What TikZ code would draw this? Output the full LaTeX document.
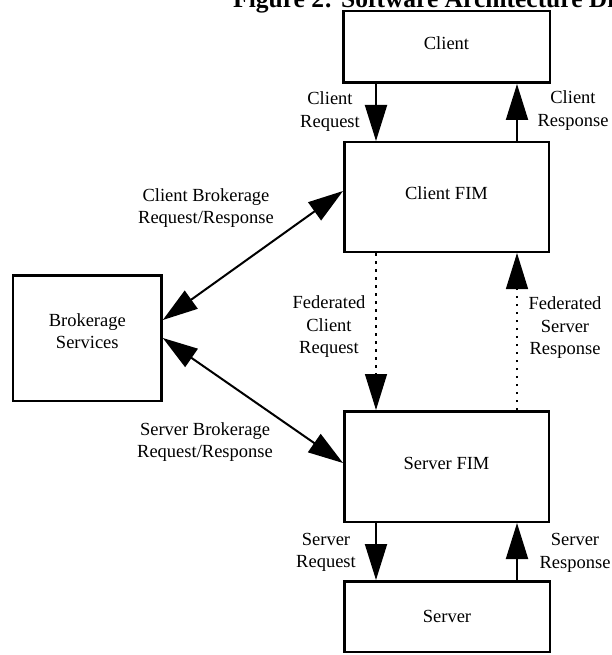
\documentclass[tikz,border=0pt]{standalone}
\usepackage{fontspec}
\setmainfont{Liberation Serif}
\usetikzlibrary{arrows.meta,calc}
\tikzset{
  box/.style={draw, line width=2.5pt, inner sep=0pt, align=center,
    font=\fontsize{18.5}{22.5}\selectfont},
  raised/.style={text height=13pt, text depth=8pt},
  lbl/.style={align=center, inner sep=0pt, font=\fontsize{18.5}{22.5}\selectfont},
  arr/.style={line width=2pt, -{Triangle[length=36pt,width=22pt]}},
  darr/.style={line width=2pt, {Triangle[length=35pt,width=22pt]}-{Triangle[length=35pt,width=22pt]}},
  dotarr/.style={line width=1.3pt, dash pattern=on 2.5pt off 5.5pt, -{Triangle[length=36pt,width=22pt]}},
}
\begin{document}
\begin{tikzpicture}[x=1pt,y=-1pt]
\useasboundingbox (0,0) rectangle (612,655);
\begin{scope}
\clip (0,0) rectangle (612,655);
\node[anchor=base west, inner sep=0pt, font=\fontsize{25.5}{30}\selectfont\bfseries] (title) at (233,8) {Figure 2: Software Architecture Diagram};
\end{scope}
% boxes
\node[box, raised, minimum width=206.5pt, minimum height=71.5pt] (client) at (446.5,47) {Client};
\node[box, raised, minimum width=204.5pt, minimum height=109.5pt] (cfim) at (446.5,197) {Client FIM};
\node[box, raised, minimum width=204.5pt, minimum height=110.5pt] (sfim) at (446.5,466.5) {Server FIM};
\node[box, minimum width=205.5pt, minimum height=70.5pt] (server) at (447,616.5) {Server};
\node[box, minimum width=148.5pt, minimum height=125.5pt] (brok) at (87.3,338) {};
\node[lbl] (brokt) at (87.3,331) {Brokerage\\Services};
% x positions of vertical connectors
\coordinate (xl) at (376,0);
\coordinate (xr) at (517,0);
% vertical connectors
\draw[arr] (client.south -| xl) -- (cfim.north -| xl);
\draw[arr] (cfim.north -| xr) -- (client.south -| xr);
\draw[dotarr] (cfim.south -| xl) -- (sfim.north -| xl);
\draw[dotarr] (sfim.north -| xr) -- (cfim.south -| xr);
\draw[arr] (sfim.south -| xl) -- (server.north -| xl);
\draw[arr] (server.north -| xr) -- (sfim.south -| xr);
% diagonal connectors
\coordinate (b1) at ([yshift=18pt]brok.east);
\coordinate (c1) at ([yshift=6pt]cfim.west);
\coordinate (s1) at ([yshift=3.5pt]sfim.west);
\draw[darr] (b1) -- (c1);
\draw[darr] (brok.east) -- (s1);
% labels
\node[lbl] (lcreq) at (330,111.5) {Client\\Request};
\node[lbl] (lcres) at (573,110.5) {Client\\Response};
\node[lbl] (lcbr) at (206,208) {Client Brokerage\\Request/Response};
\node[lbl] (lfcr) at (329,327) {Federated\\Client\\Request};
\node[lbl] (lfsr) at (565,328) {Federated\\Server\\Response};
\node[lbl] (lsbr) at (205,442) {Server Brokerage\\Request/Response};
\node[lbl] (lsreq) at (326,552.5) {Server\\Request};
\node[lbl] (lsres) at (575,553) {Server\\Response};
\end{tikzpicture}
\end{document}
